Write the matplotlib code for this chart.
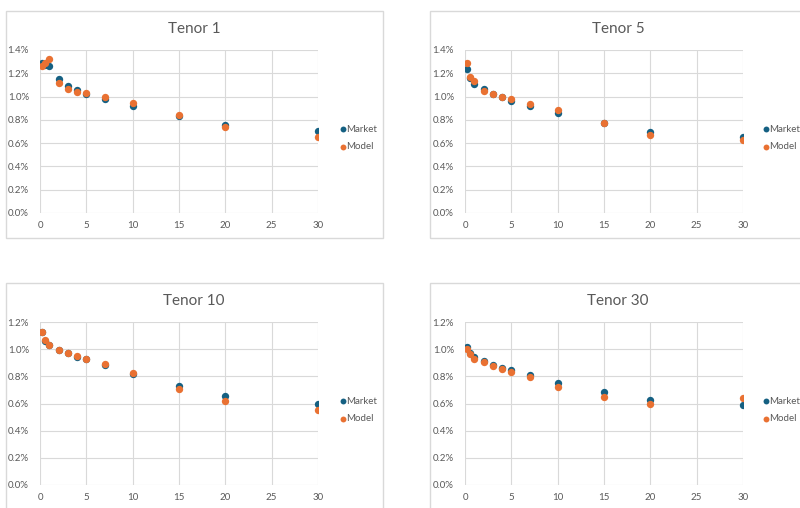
import matplotlib.pyplot as plt
from matplotlib.patches import Rectangle
from matplotlib.ticker import FuncFormatter

plt.rcParams['font.family'] = ['Lato', 'DejaVu Sans']

# maturities (years)
maturities = [0.25, 0.5, 1, 2, 3, 4, 5, 7, 10, 15, 20, 30]

# implied vols in %
market_t1 = [1.29, 1.27, 1.26, 1.15, 1.09, 1.054, 1.026, 0.98, 0.917, 0.831, 0.757, 0.70]
model_t1 = [1.26, 1.29, 1.32, 1.114, 1.066, 1.037, 1.034, 1.00, 0.946, 0.84, 0.74, 0.657]

market_t5 = [1.237, 1.157, 1.109, 1.063, 1.02, 0.994, 0.966, 0.917, 0.857, 0.769, 0.694, 0.654]
model_t5 = [1.286, 1.171, 1.137, 1.049, 1.02, 0.994, 0.98, 0.937, 0.886, 0.769, 0.671, 0.626]

market_t10 = [1.125, 1.062, 1.033, 0.996, 0.969, 0.944, 0.927, 0.88, 0.819, 0.73, 0.654, 0.595]
model_t10 = [1.13, 1.067, 1.033, 0.991, 0.969, 0.952, 0.929, 0.893, 0.826, 0.706, 0.617, 0.553]

market_t30 = [1.015, 0.969, 0.939, 0.912, 0.885, 0.863, 0.848, 0.811, 0.752, 0.681, 0.625, 0.588]
model_t30 = [1.003, 0.964, 0.927, 0.905, 0.875, 0.851, 0.834, 0.794, 0.723, 0.647, 0.60, 0.637]

titles = ['Tenor 1', 'Tenor 5', 'Tenor 10', 'Tenor 30']
y_tops = [1.4, 1.4, 1.2, 1.2]

BLUE = '#156082'
ORANGE = '#E97132'
GRID = '#D9D9D9'
TXT = '#595959'

W, H = 800, 508
fig = plt.figure(figsize=(W / 100, H / 100), dpi=100)


def frac_rect(l, t, r, b):
    return [l / W, 1 - b / H, (r - l) / W, (b - t) / H]


# pixel layout: (border box, plot area, title centre, legend anchor)
panels = [
    ((6, 11, 383, 238), (40, 50, 318, 213), (194, 29), (332, 138)),
    ((430, 11, 810, 238), (465, 50, 743, 213), (618, 29), (755, 138)),
    ((6, 283, 383, 520), (40, 322, 318, 485), (194, 301), (332, 410)),
    ((430, 283, 810, 520), (465, 322, 743, 485), (618, 301), (755, 410)),
]
series = [(market_t1, model_t1), (market_t5, model_t5),
          (market_t10, model_t10), (market_t30, model_t30)]

for (box, area, tpos, lpos), (mkt, mdl), title, ytop in zip(panels, series, titles, y_tops):
    l, t, r, b = box
    fig.patches.append(Rectangle((l / W, 1 - b / H), (r - l) / W, (b - t) / H,
                                 transform=fig.transFigure, fill=False,
                                 edgecolor=GRID, linewidth=1.0, clip_on=False))
    ax = fig.add_axes(frac_rect(*area))
    ax.scatter(maturities, mkt, s=28, color=BLUE, label='Market', zorder=3, linewidths=0)
    ax.scatter(maturities, mdl, s=28, color=ORANGE, label='Model', zorder=4, linewidths=0)
    ax.set_xlim(0, 30)
    ax.set_ylim(0, ytop)
    ax.set_xticks(range(0, 31, 5))
    ax.set_yticks([i * 0.2 for i in range(int(round(ytop / 0.2)) + 1)])
    ax.yaxis.set_major_formatter(FuncFormatter(lambda v, p: f'{v:.1f}%'))
    ax.grid(True, color=GRID, linewidth=0.8)
    ax.set_axisbelow(True)
    for s in ax.spines.values():
        s.set_visible(False)
    ax.tick_params(length=0, labelsize=7, labelcolor=TXT)
    ax.tick_params(axis='y', pad=8)
    ax.tick_params(axis='x', pad=6)
    fig.text(tpos[0] / W, 1 - tpos[1] / H, title, ha='center', va='center',
             fontsize=11, color=TXT)
    ax.legend(loc='center left', bbox_to_anchor=(lpos[0] / W, 1 - lpos[1] / H),
              bbox_transform=fig.transFigure, frameon=False, fontsize=7,
              labelcolor=TXT, handletextpad=-0.2, labelspacing=0.9,
              borderpad=0, handlelength=1.2, markerscale=0.8)

fig.savefig('out.png', dpi=100)
